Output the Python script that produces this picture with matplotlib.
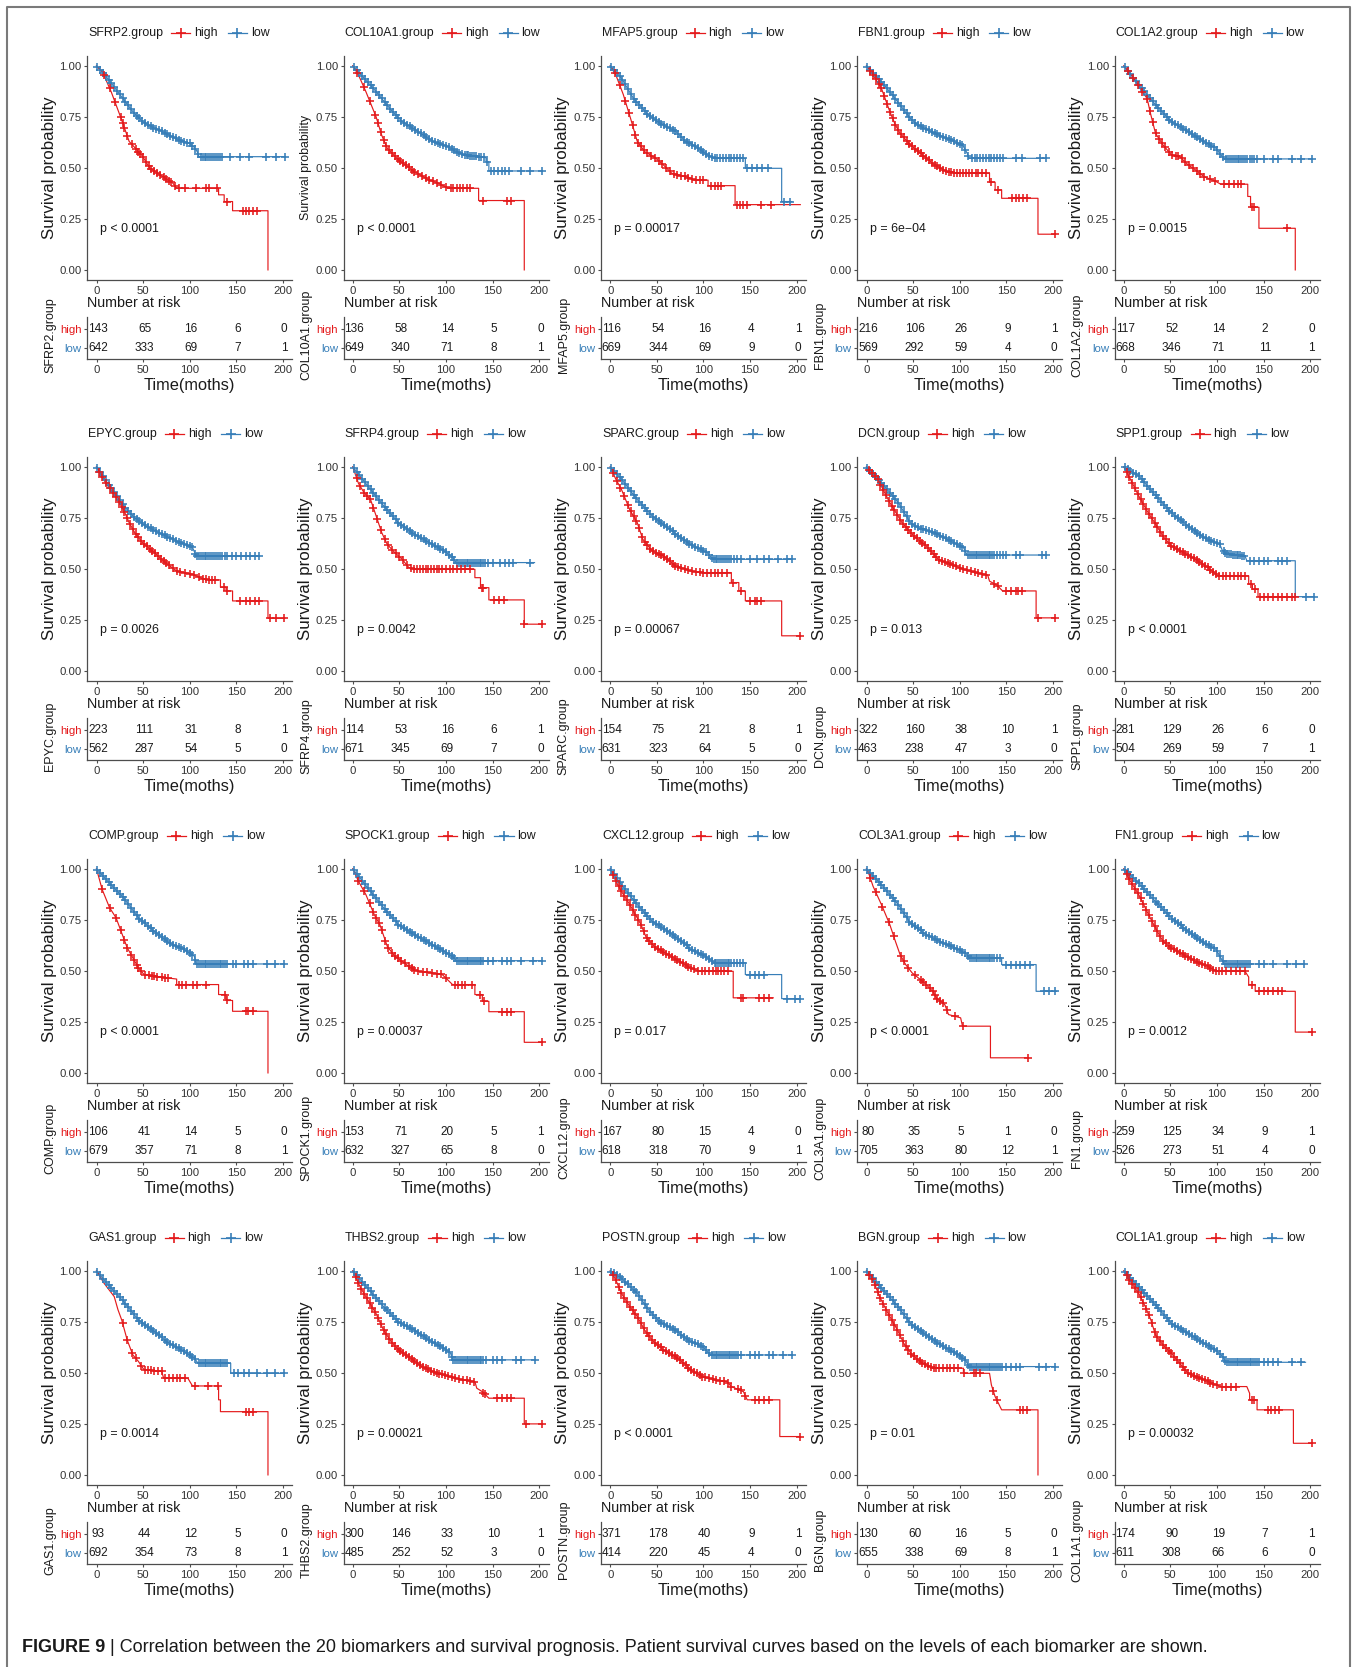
import numpy as np
import matplotlib
matplotlib.use('Agg')
import matplotlib.pyplot as plt
from matplotlib.lines import Line2D
from matplotlib import font_manager

plt.rcParams['font.family'] = ['Liberation Sans', 'DejaVu Sans']

# ---------------- data ----------------
genes = ['SFRP2', 'COL10A1', 'MFAP5', 'FBN1', 'COL1A2',
         'EPYC', 'SFRP4', 'SPARC', 'DCN', 'SPP1',
         'COMP', 'SPOCK1', 'CXCL12', 'COL3A1', 'FN1',
         'GAS1', 'THBS2', 'POSTN', 'BGN', 'COL1A1']
pvals = ['p < 0.0001', 'p < 0.0001', 'p = 0.00017', 'p = 6e\u221204', 'p = 0.0015',
         'p = 0.0026', 'p = 0.0042', 'p = 0.00067', 'p = 0.013', 'p < 0.0001',
         'p < 0.0001', 'p = 0.00037', 'p = 0.017', 'p < 0.0001', 'p = 0.0012',
         'p = 0.0014', 'p = 0.00021', 'p < 0.0001', 'p = 0.01', 'p = 0.00032']
risk_times = [0, 50, 100, 150, 200]
risk_high = [[143, 65, 16, 6, 0], [136, 58, 14, 5, 0], [116, 54, 16, 4, 1], [216, 106, 26, 9, 1], [117, 52, 14, 2, 0],
             [223, 111, 31, 8, 1], [114, 53, 16, 6, 1], [154, 75, 21, 8, 1], [322, 160, 38, 10, 1], [281, 129, 26, 6, 0],
             [106, 41, 14, 5, 0], [153, 71, 20, 5, 1], [167, 80, 15, 4, 0], [80, 35, 5, 1, 0], [259, 125, 34, 9, 1],
             [93, 44, 12, 5, 0], [300, 146, 33, 10, 1], [371, 178, 40, 9, 1], [130, 60, 16, 5, 0], [174, 90, 19, 7, 1]]
risk_low = [[642, 333, 69, 7, 1], [649, 340, 71, 8, 1], [669, 344, 69, 9, 0], [569, 292, 59, 4, 0], [668, 346, 71, 11, 1],
            [562, 287, 54, 5, 0], [671, 345, 69, 7, 0], [631, 323, 64, 5, 0], [463, 238, 47, 3, 0], [504, 269, 59, 7, 1],
            [679, 357, 71, 8, 1], [632, 327, 65, 8, 0], [618, 318, 70, 9, 1], [705, 363, 80, 12, 1], [526, 273, 51, 4, 0],
            [692, 354, 73, 8, 1], [485, 252, 52, 3, 0], [414, 220, 45, 4, 0], [655, 338, 69, 8, 1], [611, 308, 66, 6, 0]]

# Kaplan-Meier curves: time (months), survival, censor times  (hi = high group, lo = low group)
SFRP2_hi_t = [0, 6, 16, 27, 35, 49, 57, 70, 82, 86, 131, 131, 137, 137, 146, 146, 184, 184]
SFRP2_hi_s = [1, .975, .87, .735, .63, .56, .50, .46, .425, .40, .40, .368, .368, .335, .335, .29, .29, 0]
SFRP2_hi_c = [8, 14, 20, 26, 28, 30, 33, 38, 42, 45, 47, 50, 53, 56, 59, 62, 65, 68, 72, 75, 78, 80, 84, 88, 95, 107, 117, 121, 129, 140, 157, 160, 164, 168, 172]
SFRP2_lo_t = [0, 10, 20, 30, 40, 50, 60, 70, 80, 90, 100, 105, 108, 110, 202]
SFRP2_lo_s = [1, .95, .89, .83, .77, .725, .70, .68, .655, .635, .62, .60, .58, .555, .555]
SFRP2_lo_c = [1, 4, 7, 10, 13, 16, 19, 22, 25, 28, 31, 34, 37, 40, 43, 46, 49, 52, 55, 58, 61, 64, 67, 70, 73, 76, 79, 82, 85, 88, 91, 94, 97, 100, 103, 106, 109, 112, 114, 116, 118, 120, 122, 124, 126, 128, 130, 132, 135, 143, 154, 164, 182, 193, 202]

COL10A1_hi_t = [0, 6, 14, 25, 31, 37, 49, 66, 82, 92, 102, 135, 135, 184, 184]
COL10A1_hi_s = [1, .956, .874, .75, .66, .596, .539, .482, .44, .425, .40, .40, .34, .34, 0]
COL10A1_hi_c = [5, 12, 18, 24, 27, 30, 33, 36, 39, 42, 45, 48, 51, 54, 57, 60, 63, 66, 70, 74, 78, 82, 86, 90, 95, 100, 105, 108, 112, 115, 118, 122, 126, 140, 165, 170]
COL10A1_lo_t = [0, 12, 25, 41, 53, 70, 86, 102, 111, 119, 143, 143, 146, 146, 203]
COL10A1_lo_s = [1, .94, .874, .784, .727, .678, .629, .605, .58, .564, .55, .53, .53, .485, .485]
COL10A1_lo_c = [1, 4, 7, 10, 13, 16, 19, 22, 25, 28, 31, 34, 37, 40, 43, 46, 49, 52, 55, 58, 61, 64, 67, 70, 73, 76, 79, 82, 85, 88, 91, 94, 97, 100, 103, 106, 109, 112, 114, 117, 120, 122, 124, 126, 128, 130, 132, 135, 138, 141, 144, 148, 152, 156, 160, 163, 168, 180, 190, 203]

MFAP5_hi_t = [0, 6, 14, 22, 29, 37, 49, 57, 66, 81, 86, 90, 105, 105, 134, 134, 204]
MFAP5_hi_s = [1, .956, .86, .74, .63, .58, .547, .515, .474, .457, .45, .44, .44, .413, .413, .32, .32]
MFAP5_hi_c = [5, 10, 16, 20, 24, 27, 30, 33, 36, 40, 44, 48, 52, 56, 60, 64, 68, 72, 76, 80, 84, 88, 92, 96, 100, 108, 112, 116, 119, 136, 139, 143, 147, 162, 173]
MFAP5_lo_t = [0, 12, 25, 41, 53, 70, 81, 86, 95, 104, 112, 145, 145, 184, 184, 195]
MFAP5_lo_s = [1, .94, .84, .76, .72, .68, .63, .62, .596, .564, .547, .547, .498, .498, .335, .335]
MFAP5_lo_c = [1, 4, 7, 10, 13, 16, 19, 22, 25, 28, 31, 34, 37, 40, 43, 46, 49, 52, 55, 58, 61, 64, 67, 70, 73, 76, 79, 82, 85, 88, 91, 94, 97, 100, 103, 106, 109, 112, 115, 118, 121, 124, 127, 130, 133, 136, 139, 142, 147, 152, 158, 163, 169, 186, 193]

FBN1_hi_t = [0, 7, 16, 25, 31, 36, 47, 60, 73, 86, 99, 132, 132, 138, 138, 145, 145, 184, 184, 202]
FBN1_hi_s = [1, .956, .89, .776, .71, .67, .613, .564, .515, .482, .474, .474, .43, .43, .392, .392, .351, .351, .175, .175]
FBN1_hi_c = [4, 7, 10, 13, 16, 19, 22, 25, 28, 31, 34, 37, 40, 43, 46, 49, 52, 55, 58, 61, 64, 67, 70, 73, 76, 79, 82, 85, 88, 91, 94, 97, 100, 104, 107, 110, 113, 117, 120, 124, 128, 134, 141, 156, 160, 164, 168, 172, 202]
FBN1_lo_t = [0, 16, 29, 47, 55, 73, 90, 103, 108, 110, 193]
FBN1_lo_s = [1, .923, .85, .743, .71, .67, .637, .613, .572, .547, .547]
FBN1_lo_c = [1, 4, 7, 10, 13, 16, 19, 22, 25, 28, 31, 34, 37, 40, 43, 46, 49, 52, 55, 58, 61, 64, 67, 70, 73, 76, 79, 82, 85, 88, 91, 94, 97, 100, 103, 106, 109, 113, 116, 119, 122, 125, 128, 131, 134, 137, 140, 143, 147, 160, 167, 186, 193]

COL1A2_hi_t = [0, 7, 16, 25, 29, 34, 42, 51, 60, 69, 77, 86, 99, 104, 133, 133, 136, 136, 145, 145, 184, 184]
COL1A2_hi_s = [1, .964, .90, .84, .76, .67, .613, .564, .555, .515, .49, .457, .433, .42, .42, .36, .36, .307, .307, .204, .204, 0]
COL1A2_hi_c = [5, 10, 15, 20, 25, 28, 31, 34, 38, 41, 44, 48, 52, 56, 58, 62, 66, 70, 74, 78, 82, 86, 92, 98, 108, 113, 118, 122, 126, 138, 140, 175]
COL1A2_lo_t = [0, 16, 34, 51, 69, 86, 99, 104, 108, 202]
COL1A2_lo_s = [1, .907, .81, .727, .678, .629, .596, .564, .544, .544]
COL1A2_lo_c = [1, 4, 7, 10, 13, 16, 19, 22, 25, 28, 31, 34, 37, 40, 43, 46, 49, 52, 55, 58, 61, 64, 67, 70, 73, 76, 79, 82, 85, 88, 91, 94, 97, 100, 103, 106, 110, 112, 114, 116, 118, 120, 122, 124, 126, 128, 130, 132, 135, 138, 140, 143, 150, 160, 165, 180, 190, 202]

EPYC_hi_t = [0, 10, 20, 29, 35, 41, 49, 62, 74, 86, 103, 115, 129, 133, 133, 139, 139, 146, 146, 184, 184, 202]
EPYC_hi_s = [1, .92, .858, .79, .727, .678, .63, .58, .53, .49, .474, .449, .446, .446, .41, .41, .392, .392, .343, .343, .258, .258]
EPYC_hi_c = [3, 6, 10, 14, 18, 21, 24, 27, 30, 33, 36, 39, 42, 45, 48, 51, 54, 57, 60, 63, 66, 69, 72, 75, 78, 82, 86, 90, 95, 100, 105, 110, 114, 118, 121, 124, 127, 137, 140, 154, 160, 165, 170, 174, 186, 193, 201]
EPYC_lo_t = [0, 12, 29, 41, 53, 70, 86, 103, 107, 174]
EPYC_lo_s = [1, .92, .81, .75, .71, .67, .637, .605, .564, .564]
EPYC_lo_c = [1, 4, 7, 10, 13, 16, 19, 22, 25, 28, 31, 34, 37, 40, 43, 46, 49, 52, 55, 58, 61, 64, 67, 70, 73, 76, 79, 82, 85, 88, 91, 94, 97, 100, 103, 106, 108, 110, 112, 114, 116, 118, 120, 122, 124, 126, 128, 130, 132, 135, 138, 140, 145, 150, 155, 160, 165, 170, 174]

SFRP4_hi_t = [0, 6, 12, 19, 25, 31, 37, 45, 53, 60, 66, 131, 131, 137, 137, 146, 146, 184, 184, 203]
SFRP4_hi_s = [1, .92, .874, .84, .76, .678, .62, .58, .547, .507, .498, .498, .457, .457, .408, .408, .348, .348, .229, .229]
SFRP4_hi_c = [4, 8, 12, 15, 18, 22, 26, 30, 34, 38, 42, 46, 50, 54, 58, 62, 66, 69, 72, 75, 78, 81, 84, 87, 90, 93, 96, 100, 104, 108, 112, 116, 120, 126, 139, 140, 151, 157, 162, 184, 203]
SFRP4_lo_t = [0, 16, 33, 49, 66, 82, 98, 107, 111, 195]
SFRP4_lo_s = [1, .907, .81, .727, .67, .629, .588, .556, .531, .531]
SFRP4_lo_c = [1, 4, 7, 10, 13, 16, 19, 22, 25, 28, 31, 34, 37, 40, 43, 46, 49, 52, 55, 58, 61, 64, 67, 70, 73, 76, 79, 82, 85, 88, 91, 94, 97, 100, 103, 106, 109, 112, 114, 116, 118, 120, 122, 124, 126, 128, 130, 132, 134, 136, 138, 140, 142, 145, 150, 158, 163, 168, 172, 190]

SPARC_hi_t = [0, 6, 12, 21, 29, 35, 45, 57, 70, 81, 86, 99, 130, 130, 138, 138, 145, 145, 184, 184, 204]
SPARC_hi_s = [1, .94, .89, .79, .727, .645, .588, .564, .515, .498, .49, .482, .482, .433, .433, .392, .392, .343, .343, .172, .172]
SPARC_hi_c = [3, 7, 11, 15, 19, 22, 25, 28, 31, 34, 37, 40, 43, 46, 49, 52, 55, 58, 61, 64, 67, 70, 73, 76, 80, 84, 88, 92, 96, 100, 104, 108, 112, 116, 120, 125, 132, 140, 150, 155, 158, 162, 204]
SPARC_lo_t = [0, 12, 29, 45, 62, 81, 86, 104, 110, 195]
SPARC_lo_s = [1, .94, .84, .76, .70, .637, .62, .58, .547, .547]
SPARC_lo_c = [1, 4, 7, 10, 13, 16, 19, 22, 25, 28, 31, 34, 37, 40, 43, 46, 49, 52, 55, 58, 61, 64, 67, 70, 73, 76, 79, 82, 85, 88, 91, 94, 97, 100, 103, 106, 109, 111, 113, 115, 117, 119, 121, 123, 125, 127, 130, 133, 136, 140, 150, 158, 165, 170, 180, 190, 195]

DCN_hi_t = [0, 12, 25, 38, 51, 64, 77, 90, 104, 117, 130, 132, 140, 146, 182, 182, 202]
DCN_hi_s = [1, .94, .825, .727, .66, .613, .547, .523, .498, .482, .47, .44, .42, .392, .392, .26, .26]
DCN_hi_c = [3, 6, 9, 12, 15, 18, 21, 24, 27, 30, 33, 36, 39, 42, 45, 48, 51, 54, 57, 60, 63, 66, 69, 72, 75, 78, 81, 84, 87, 90, 93, 96, 100, 104, 108, 112, 116, 120, 124, 128, 137, 141, 150, 155, 160, 163, 167, 184, 202]
DCN_lo_t = [0, 16, 34, 47, 56, 73, 90, 104, 108, 193]
DCN_lo_s = [1, .923, .825, .727, .70, .678, .637, .605, .568, .568]
DCN_lo_c = [1, 4, 7, 10, 13, 16, 19, 22, 25, 28, 31, 34, 37, 40, 43, 46, 49, 52, 55, 58, 61, 64, 67, 70, 73, 76, 79, 82, 85, 88, 91, 94, 97, 100, 103, 106, 109, 111, 113, 115, 117, 119, 121, 123, 125, 127, 129, 131, 133, 135, 137, 140, 143, 146, 150, 160, 165, 188, 193]

SPP1_hi_t = [0, 7, 16, 25, 34, 42, 51, 64, 77, 90, 101, 134, 134, 138, 138, 144, 144, 184]
SPP1_hi_s = [1, .94, .858, .784, .72, .66, .613, .58, .547, .507, .466, .466, .425, .425, .40, .40, .364, .364]
SPP1_hi_c = [3, 6, 9, 12, 15, 18, 21, 24, 27, 30, 33, 36, 39, 42, 45, 48, 51, 54, 57, 60, 63, 66, 69, 72, 75, 78, 81, 84, 87, 90, 93, 96, 99, 102, 106, 110, 114, 118, 122, 126, 130, 136, 141, 146, 150, 155, 160, 165, 170, 175, 180, 184]
SPP1_lo_t = [0, 16, 34, 51, 69, 86, 103, 106, 112, 130, 132, 184, 184, 204]
SPP1_lo_s = [1, .956, .86, .776, .71, .654, .62, .588, .572, .564, .54, .54, .364, .364]
SPP1_lo_c = [1, 4, 7, 10, 13, 16, 19, 22, 25, 28, 31, 34, 37, 40, 43, 46, 49, 52, 55, 58, 61, 64, 67, 70, 73, 76, 79, 82, 85, 88, 91, 94, 97, 100, 103, 107, 109, 111, 113, 115, 117, 119, 121, 123, 125, 127, 129, 135, 140, 145, 150, 155, 165, 170, 175, 195, 204]

COMP_hi_t = [0, 6, 14, 21, 27, 33, 39, 45, 51, 70, 86, 86, 131, 131, 139, 139, 146, 146, 184, 184]
COMP_hi_s = [1, .90, .81, .76, .686, .613, .564, .515, .482, .469, .46, .433, .433, .384, .384, .355, .355, .302, .302, 0]
COMP_hi_c = [6, 14, 21, 26, 30, 33, 37, 40, 43, 45, 48, 52, 56, 60, 62, 65, 70, 73, 77, 88, 92, 96, 104, 108, 118, 138, 140, 160, 163, 168]
COMP_lo_t = [0, 12, 29, 45, 62, 78, 94, 105, 107, 201]
COMP_lo_s = [1, .94, .858, .76, .694, .637, .605, .572, .534, .534]
COMP_lo_c = [1, 4, 7, 10, 13, 16, 19, 22, 25, 28, 31, 34, 37, 40, 43, 46, 49, 52, 55, 58, 61, 64, 67, 70, 73, 76, 79, 82, 85, 88, 91, 94, 97, 100, 103, 106, 108, 110, 112, 114, 116, 118, 120, 122, 124, 126, 128, 130, 132, 134, 136, 138, 140, 146, 150, 158, 163, 168, 183, 192, 201]

SPOCK1_hi_t = [0, 6, 14, 23, 29, 37, 45, 53, 62, 70, 86, 96, 107, 131, 131, 139, 139, 146, 146, 184, 184, 203]
SPOCK1_hi_s = [1, .94, .874, .776, .727, .62, .572, .547, .515, .498, .49, .482, .433, .433, .384, .384, .351, .351, .30, .30, .15, .15]
SPOCK1_hi_c = [6, 12, 18, 22, 25, 28, 31, 35, 38, 42, 45, 48, 52, 56, 60, 63, 66, 70, 75, 80, 85, 90, 95, 100, 110, 113, 117, 120, 128, 137, 141, 160, 165, 170, 203]
SPOCK1_lo_t = [0, 16, 33, 49, 66, 82, 98, 109, 111, 203]
SPOCK1_lo_s = [1, .907, .81, .727, .678, .637, .596, .564, .55, .55]
SPOCK1_lo_c = [1, 4, 7, 10, 13, 16, 19, 22, 25, 28, 31, 34, 37, 40, 43, 46, 49, 52, 55, 58, 61, 64, 67, 70, 73, 76, 79, 82, 85, 88, 91, 94, 97, 100, 103, 106, 109, 112, 114, 116, 118, 120, 122, 124, 126, 128, 130, 132, 134, 136, 138, 140, 145, 150, 160, 165, 170, 180, 193, 203]

CXCL12_hi_t = [0, 6, 12, 21, 27, 33, 39, 49, 62, 74, 81, 86, 95, 132, 132, 175]
CXCL12_hi_s = [1, .94, .89, .825, .776, .727, .66, .613, .58, .547, .53, .515, .498, .498, .368, .368]
CXCL12_hi_c = [3, 6, 9, 12, 15, 18, 21, 24, 27, 30, 33, 36, 39, 42, 45, 48, 51, 54, 57, 60, 63, 66, 69, 72, 75, 78, 81, 84, 87, 90, 94, 98, 102, 106, 110, 113, 116, 119, 122, 126, 140, 143, 160, 165, 170]
CXCL12_lo_t = [0, 12, 29, 45, 62, 81, 86, 99, 112, 145, 145, 184, 184, 204]
CXCL12_lo_s = [1, .923, .825, .743, .694, .63, .605, .58, .54, .54, .482, .482, .364, .364]
CXCL12_lo_c = [1, 4, 7, 10, 13, 16, 19, 22, 25, 28, 31, 34, 37, 40, 43, 46, 49, 52, 55, 58, 61, 64, 67, 70, 73, 76, 79, 82, 85, 88, 91, 94, 97, 100, 103, 106, 109, 112, 114, 116, 118, 120, 122, 124, 126, 128, 130, 133, 136, 139, 143, 150, 155, 160, 165, 190, 198, 204]

COL3A1_hi_t = [0, 3, 7, 16, 25, 31, 36, 42, 49, 58, 64, 71, 75, 84, 88, 101, 103, 133, 133, 173]
COL3A1_hi_s = [1, .97, .915, .825, .727, .645, .58, .531, .49, .457, .433, .40, .368, .335, .286, .27, .229, .229, .074, .074]
COL3A1_hi_c = [4, 10, 17, 24, 29, 37, 40, 45, 52, 58, 61, 64, 68, 71, 73, 76, 79, 82, 86, 95, 104, 173]
COL3A1_lo_t = [0, 16, 34, 47, 64, 82, 99, 108, 110, 145, 145, 182, 182, 204]
COL3A1_lo_s = [1, .923, .825, .735, .678, .637, .605, .58, .564, .564, .531, .531, .40, .40]
COL3A1_lo_c = [1, 4, 7, 10, 13, 16, 19, 22, 25, 28, 31, 34, 37, 40, 43, 46, 49, 52, 55, 58, 61, 64, 67, 70, 73, 76, 79, 82, 85, 88, 91, 94, 97, 100, 103, 106, 109, 111, 113, 115, 117, 119, 121, 123, 125, 127, 129, 131, 133, 135, 137, 140, 143, 150, 155, 160, 165, 170, 175, 190, 196, 202]

FN1_hi_t = [0, 7, 16, 25, 34, 42, 51, 64, 77, 90, 99, 130, 134, 134, 141, 141, 184, 184, 202]
FN1_hi_s = [1, .94, .874, .79, .71, .645, .613, .58, .547, .523, .498, .498, .47, .433, .433, .40, .40, .20, .20]
FN1_hi_c = [3, 6, 9, 12, 15, 18, 21, 24, 27, 30, 33, 36, 39, 42, 45, 48, 51, 54, 57, 60, 63, 66, 69, 72, 75, 78, 81, 84, 87, 90, 93, 96, 99, 102, 105, 110, 115, 120, 125, 130, 138, 145, 150, 155, 160, 165, 170, 202]
FN1_lo_t = [0, 16, 34, 51, 69, 86, 99, 104, 108, 193]
FN1_lo_s = [1, .93, .84, .76, .694, .637, .605, .564, .534, .534]
FN1_lo_c = [1, 4, 7, 10, 13, 16, 19, 22, 25, 28, 31, 34, 37, 40, 43, 46, 49, 52, 55, 58, 61, 64, 67, 70, 73, 76, 79, 82, 85, 88, 91, 94, 97, 100, 103, 106, 109, 111, 113, 115, 117, 119, 121, 123, 125, 127, 129, 131, 133, 135, 145, 150, 160, 175, 185, 193]

GAS1_hi_t = [0, 8, 19, 23, 27, 33, 39, 45, 51, 70, 72, 98, 103, 131, 131, 133, 133, 184, 184]
GAS1_hi_s = [1, .94, .874, .81, .76, .66, .588, .556, .515, .507, .474, .474, .436, .436, .368, .368, .31, .31, 0]
GAS1_hi_c = [28, 33, 38, 42, 48, 52, 55, 58, 62, 66, 70, 74, 78, 82, 86, 90, 95, 106, 120, 130, 160, 164, 168]
GAS1_lo_t = [0, 12, 29, 45, 62, 78, 94, 105, 109, 144, 144, 201]
GAS1_lo_s = [1, .935, .85, .76, .703, .645, .605, .572, .547, .547, .498, .498]
GAS1_lo_c = [1, 4, 7, 10, 13, 16, 19, 22, 25, 28, 31, 34, 37, 40, 43, 46, 49, 52, 55, 58, 61, 64, 67, 70, 73, 76, 79, 82, 85, 88, 91, 94, 97, 100, 103, 106, 110, 112, 114, 116, 118, 120, 122, 124, 126, 128, 130, 132, 134, 136, 138, 140, 148, 152, 158, 164, 172, 183, 192, 201]

THBS2_hi_t = [0, 8, 16, 25, 33, 41, 49, 62, 74, 86, 103, 117, 131, 133, 139, 146, 184, 184, 203]
THBS2_hi_s = [1, .92, .858, .79, .71, .654, .613, .572, .531, .507, .482, .466, .457, .425, .408, .376, .376, .25, .25]
THBS2_hi_c = [3, 6, 9, 12, 15, 18, 21, 24, 27, 30, 33, 36, 39, 42, 45, 48, 51, 54, 57, 60, 63, 66, 69, 72, 75, 78, 81, 84, 87, 90, 93, 96, 99, 102, 106, 110, 114, 118, 122, 126, 130, 140, 142, 155, 160, 165, 170, 186, 203]
THBS2_lo_t = [0, 16, 33, 49, 66, 82, 98, 105, 107, 195]
THBS2_lo_s = [1, .915, .825, .75, .71, .66, .62, .596, .564, .564]
THBS2_lo_c = [1, 4, 7, 10, 13, 16, 19, 22, 25, 28, 31, 34, 37, 40, 43, 46, 49, 52, 55, 58, 61, 64, 67, 70, 73, 76, 79, 82, 85, 88, 91, 94, 97, 100, 103, 106, 108, 110, 112, 114, 116, 118, 120, 122, 124, 126, 128, 130, 132, 134, 136, 138, 140, 143, 150, 155, 160, 175, 180, 195]

POSTN_hi_t = [0, 6, 12, 21, 29, 37, 45, 57, 70, 81, 86, 99, 112, 125, 130, 143, 147, 182, 182, 204]
POSTN_hi_s = [1, .956, .89, .825, .776, .71, .66, .613, .58, .54, .515, .482, .466, .457, .433, .408, .368, .368, .188, .188]
POSTN_hi_c = [3, 6, 9, 12, 15, 18, 21, 24, 27, 30, 33, 36, 39, 42, 45, 48, 51, 54, 57, 60, 63, 66, 69, 72, 75, 78, 81, 84, 87, 90, 93, 96, 99, 102, 106, 110, 114, 118, 122, 126, 130, 137, 140, 145, 155, 160, 165, 170, 204]
POSTN_lo_t = [0, 12, 29, 41, 53, 70, 81, 86, 99, 106, 108, 195]
POSTN_lo_s = [1, .964, .89, .81, .75, .71, .67, .654, .63, .596, .588, .588]
POSTN_lo_c = [1, 4, 7, 10, 13, 16, 19, 22, 25, 28, 31, 34, 37, 40, 43, 46, 49, 52, 55, 58, 61, 64, 67, 70, 73, 76, 79, 82, 85, 88, 91, 94, 97, 100, 103, 106, 109, 111, 113, 115, 117, 119, 121, 123, 125, 127, 129, 131, 133, 135, 137, 140, 150, 155, 160, 170, 175, 185, 195]

BGN_hi_t = [0, 7, 14, 21, 27, 34, 40, 49, 60, 73, 104, 104, 132, 134, 138, 145, 184, 184]
BGN_hi_s = [1, .956, .874, .81, .76, .703, .645, .588, .547, .523, .523, .498, .498, .441, .384, .319, .319, 0]
BGN_hi_c = [3, 6, 9, 12, 15, 18, 21, 24, 27, 30, 33, 36, 39, 42, 45, 48, 51, 54, 57, 60, 63, 66, 69, 72, 75, 78, 82, 86, 90, 94, 98, 105, 115, 118, 122, 136, 140, 165, 168, 172]
BGN_lo_t = [0, 16, 34, 47, 64, 82, 99, 106, 110, 202]
BGN_lo_s = [1, .915, .825, .743, .686, .63, .588, .564, .531, .531]
BGN_lo_c = [1, 4, 7, 10, 13, 16, 19, 22, 25, 28, 31, 34, 37, 40, 43, 46, 49, 52, 55, 58, 61, 64, 67, 70, 73, 76, 79, 82, 85, 88, 91, 94, 97, 100, 103, 106, 109, 111, 113, 115, 117, 119, 121, 123, 125, 127, 129, 131, 133, 135, 137, 139, 141, 143, 145, 150, 155, 160, 165, 185, 193, 202]

COL1A1_hi_t = [0, 7, 16, 23, 29, 34, 42, 51, 60, 69, 82, 95, 104, 132, 135, 135, 143, 143, 182, 182, 202]
COL1A1_hi_s = [1, .948, .89, .825, .76, .686, .637, .596, .547, .498, .474, .449, .433, .433, .40, .368, .368, .319, .319, .155, .155]
COL1A1_hi_c = [3, 6, 9, 12, 15, 18, 21, 24, 27, 30, 33, 36, 39, 42, 45, 48, 51, 54, 57, 60, 63, 66, 69, 72, 75, 78, 81, 84, 87, 90, 93, 96, 100, 105, 110, 115, 120, 138, 140, 155, 158, 162, 166, 202]
COL1A1_lo_t = [0, 16, 34, 51, 69, 86, 99, 106, 110, 195]
COL1A1_lo_s = [1, .923, .833, .743, .694, .645, .61, .58, .552, .552]
COL1A1_lo_c = [1, 4, 7, 10, 13, 16, 19, 22, 25, 28, 31, 34, 37, 40, 43, 46, 49, 52, 55, 58, 61, 64, 67, 70, 73, 76, 79, 82, 85, 88, 91, 94, 97, 100, 103, 106, 109, 111, 113, 115, 117, 119, 121, 123, 125, 127, 129, 131, 133, 135, 137, 139, 141, 143, 145, 150, 155, 160, 165, 180, 190]

caption_bold = 'FIGURE 9'
caption_text = ' | Correlation between the 20 biomarkers and survival prognosis. Patient survival curves based on the levels of each biomarker are shown.'

# ---------------- layout / style ----------------
W, H = 1357, 1667
RED = '#E41A1C'
BLUE = '#377EB8'
TXT = '#1a1a1a'
TICKC = '#333333'
SPC = '#4d4d4d'

col_left = [87.2, 343.5, 600.9, 857.2, 1114.5]
row_top = [55.7, 456.7, 858.7, 1260.7]
KM_W, KM_H = 205.0, 224.4
TB_OFF, TB_H = 261.3, 42.3

fig = plt.figure(figsize=(W / 100, H / 100), dpi=100)
renderer = fig.canvas.get_renderer()


def add_ax(left, top, w, h):
    return fig.add_axes([left / W, 1 - (top + h) / H, w / W, h / H])


def fy(ypx):
    return 1 - ypx / H


def style_ax(ax):
    for sp in ['top', 'right']:
        ax.spines[sp].set_visible(False)
    for sp in ['left', 'bottom']:
        ax.spines[sp].set_color(SPC)
        ax.spines[sp].set_linewidth(0.9)
    ax.tick_params(axis='both', which='both', length=2.4, width=0.8, color=SPC,
                   labelsize=8.2, labelcolor=TICKC, pad=1.6)
    ax.set_facecolor('none')


def legend_row(xpx, ypx, title):
    y = fy(ypx)
    t = fig.text(xpx / W, y, title, ha='left', va='center', fontsize=8.9, color=TXT)
    bb = t.get_window_extent(renderer)
    x = bb.x1 + 8
    for label, color in [('high', RED), ('low', BLUE)]:
        fig.add_artist(Line2D([x / W, (x + 19) / W], [y, y], color=color, lw=0.9,
                              transform=fig.transFigure))
        fig.add_artist(Line2D([(x + 9.5) / W], [y], marker='+', ms=7.5, mew=1.2, color=color,
                              transform=fig.transFigure))
        tt = fig.text((x + 23) / W, y, label, ha='left', va='center', fontsize=8.9, color=TXT)
        x = tt.get_window_extent(renderer).x1 + 10


for i, g in enumerate(genes):
    r, c = divmod(i, 5)
    left, top = col_left[c], row_top[r]
    ax = add_ax(left, top, KM_W, KM_H)
    style_ax(ax)
    ax.set_xlim(-10, 210)
    ax.set_ylim(-0.05, 1.05)
    ax.set_xticks(risk_times)
    ax.set_xticklabels([str(v) for v in risk_times])
    ax.set_yticks([0, 0.25, 0.5, 0.75, 1.0])
    ax.set_yticklabels(['0.00', '0.25', '0.50', '0.75', '1.00'])

    groups = [(globals()[g + '_lo_t'], globals()[g + '_lo_s'], globals()[g + '_lo_c'], BLUE),
              (globals()[g + '_hi_t'], globals()[g + '_hi_s'], globals()[g + '_hi_c'], RED)]
    for t, s, cens, color in groups:
        ax.plot(t, s, color=color, lw=0.85, zorder=2, clip_on=False)
        cy = np.interp(cens, t, s)
        ax.plot(cens, cy, ls='none', marker='+', ms=6.0, mew=1.15, color=color, zorder=3,
                clip_on=False)
    ax.text(4, 0.2, pvals[i], ha='left', va='center', fontsize=8.9, color=TXT)

    # y label
    small = (g == 'COL10A1')
    fig.text((left - 38) / W, fy(top + KM_H / 2), 'Survival probability',
             rotation=90, ha='center', va='center', fontsize=(8.9 if small else 12.2), color=TXT)

    # legend
    legend_row(left + 1, top - 22.5, g + '.group')

    # risk table
    tb_top = top + TB_OFF
    fig.text(left / W, fy(tb_top - 14), 'Number at risk', ha='left', va='center',
             fontsize=10.3, color=TXT)
    tb = add_ax(left, tb_top, KM_W, TB_H)
    style_ax(tb)
    tb.set_xlim(-10, 210)
    tb.set_ylim(0.4, 2.6)
    tb.set_xticks(risk_times)
    tb.set_xticklabels([str(v) for v in risk_times])
    tb.set_yticks([2, 1])
    tb.set_yticklabels(['high', 'low'])
    for lab, col in zip(tb.get_yticklabels(), [RED, BLUE]):
        lab.set_color(col)
    for tt, hv, lv in zip(risk_times, risk_high[i], risk_low[i]):
        tb.text(tt + 1.5, 2, str(hv), ha='center', va='center', fontsize=8.5, color=TXT)
        tb.text(tt + 1.5, 1, str(lv), ha='center', va='center', fontsize=8.5, color=TXT)
    fig.text((left - 37) / W, fy(tb_top + TB_H / 2 - 3), g + '.group', rotation=90,
             ha='center', va='center', fontsize=9.0, color=TXT)
    fig.text((left + KM_W / 2) / W, fy(tb_top + TB_H + 26.5), 'Time(moths)',
             ha='center', va='center', fontsize=11.8, color=TXT)

# outer frame (open at the bottom)
frame_c = '#7a7a7a'
fig.add_artist(Line2D([7 / W, 7 / W, 1350 / W, 1350 / W], [0, fy(7), fy(7), 0],
                      color=frame_c, lw=1.5, transform=fig.transFigure))

# caption
names = {f.name for f in font_manager.fontManager.ttflist}
cap_family = ['Liberation Sans Narrow', 'DejaVu Sans'] if 'Liberation Sans Narrow' in names else ['Liberation Sans', 'DejaVu Sans']
cy_cap = fy(1647)
t1 = fig.text(22 / W, cy_cap, caption_bold, fontweight='bold', fontsize=12, va='center',
              ha='left', color=TXT, family=cap_family)
t2 = fig.text(0, cy_cap, caption_text, fontsize=12, va='center', ha='left', color=TXT,
              family=cap_family)
w1 = t1.get_window_extent(renderer).width
w2 = t2.get_window_extent(renderer).width
scale = 1185.0 / (w1 + w2)
fs = 12 * scale
t1.set_fontsize(fs)
t2.set_fontsize(fs)
w1 = t1.get_window_extent(renderer).width
t2.set_x((22 + w1) / W)

fig.savefig('out.png', dpi=100, facecolor='white')
